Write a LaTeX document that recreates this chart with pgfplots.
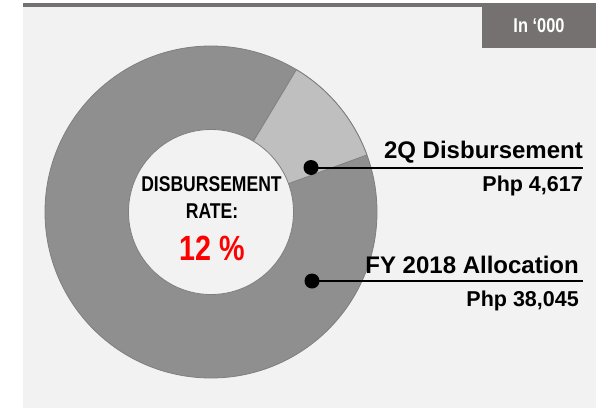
\documentclass[border=0pt]{standalone}
\usepackage{pgfplots}
\pgfplotsset{compat=1.18}
\usepackage{fontspec}
\setmainfont{Liberation Sans}
\newfontfamily\narrowfont[FakeStretch=0.82]{Liberation Sans}

\definecolor{panel}{HTML}{F2F2F2}
\definecolor{topbar}{HTML}{767171}
\definecolor{segdark}{HTML}{8F8F8F}
\definecolor{seglight}{HTML}{BFBFBF}
\definecolor{edge}{HTML}{7F7F7F}

% values in '000
\def\disb{4617}
\def\alloc{38045}

% donut geometry (axis units = bp, y measured from the top)
\def\cx{211}
\def\cy{212}
\def\ro{166}
\def\ri{82.5}
\def\sA{20.1}
\pgfkeys{/pgf/fpu=true, /pgf/fpu/output format=fixed}
\pgfmathsetmacro{\eA}{\sA+360*\disb/(\disb+\alloc)}
\pgfkeys{/pgf/fpu=false}

\begin{document}
\begin{tikzpicture}
\begin{axis}[
  scale only axis,
  width=596bp, height=408bp,
  xmin=0, xmax=596, ymin=0, ymax=408,
  y dir=reverse,
  hide axis,
  clip=false,
]
% background and panel
\fill[white] (axis cs:0,0) rectangle (axis cs:596,408);
\fill[panel] (axis cs:23,7) rectangle (axis cs:596,408);
\fill[topbar] (axis cs:23,3) rectangle (axis cs:596,7);
\fill[topbar] (axis cs:482,3) rectangle (axis cs:596,48);
\node[anchor=base, inner sep=0, text=white,
  font=\narrowfont\fontsize{20bp}{24bp}\selectfont\bfseries]
  at (axis cs:539,32.3) {In ‘000};

% donut
\filldraw[fill=segdark, draw=edge, line width=0.8bp]
  (axis cs:\cx,\cy) circle[radius=\ro bp];
\filldraw[fill=seglight, draw=edge, line width=0.8bp]
  (axis cs:\cx,\cy) -- (axis cs:{\cx+\ro*cos(\sA)},{\cy-\ro*sin(\sA)})
  arc[start angle=\sA, end angle=\eA, radius=\ro bp] -- cycle;
\filldraw[fill=panel, draw=edge, line width=0.8bp]
  (axis cs:\cx,\cy) circle[radius=\ri bp];

% centre text
\node[anchor=base, inner sep=0,
  font=\narrowfont\fontsize{21.4bp}{24bp}\selectfont\bfseries]
  at (axis cs:211.5,191) {DISBURSEMENT};
\node[anchor=base, inner sep=0,
  font=\narrowfont\fontsize{21.4bp}{24bp}\selectfont\bfseries]
  at (axis cs:212,218.3) {RATE:};
\node[anchor=base, inner sep=0, text=red,
  font=\narrowfont\fontsize{35bp}{40bp}\selectfont\bfseries]
  at (axis cs:212,260) {12 \%};

% leader lines and labels
\draw[line width=2bp] (axis cs:311,167.5) -- (axis cs:583,167.5);
\fill (axis cs:311,167.5) circle[radius=7.5bp];
\draw[line width=2bp] (axis cs:312,281) -- (axis cs:583,281);
\fill (axis cs:312,281) circle[radius=7.5bp];

\node[anchor=base east, inner sep=0, font=\fontsize{24bp}{28bp}\selectfont\bfseries]
  at (axis cs:583,158.3) {2Q Disbursement};
\node[anchor=base east, inner sep=0, font=\fontsize{21.5bp}{26bp}\selectfont\bfseries]
  at (axis cs:583,191.7) {Php 4,617};
\node[anchor=base east, inner sep=0, font=\fontsize{24bp}{28bp}\selectfont\bfseries]
  at (axis cs:579,273) {FY 2018 Allocation};
\node[anchor=base east, inner sep=0, font=\fontsize{21.5bp}{26bp}\selectfont\bfseries]
  at (axis cs:579,306) {Php 38,045};
\end{axis}
\end{tikzpicture}
\end{document}
